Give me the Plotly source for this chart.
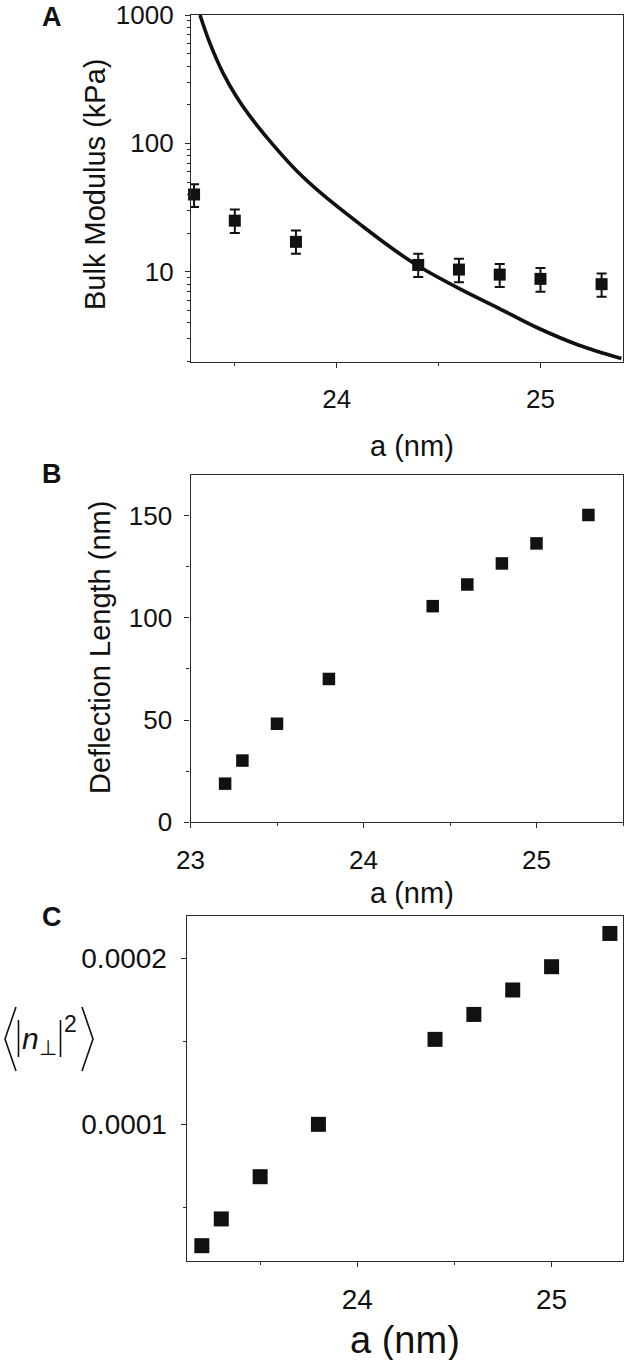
import plotly.graph_objects as go

W, H = 625, 1360

# ---------------- data ----------------
a_A = [23.3, 23.5, 23.8, 24.4, 24.6, 24.8, 25.0, 25.3]
K_A = [40, 25, 17.1, 11.3, 10.4, 9.5, 8.8, 8.0]
K_err_plus = [8, 5.5, 3.9, 2.5, 2.2, 2.0, 1.9, 1.7]
K_err_minus = [8, 5.0, 3.3, 2.2, 2.1, 1.9, 1.8, 1.6]

curve_a = [23.329, 23.378, 23.443, 23.509, 23.590, 23.687, 23.802, 23.932,
           24.127, 24.290, 24.404, 24.616, 24.779, 24.990, 25.186, 25.397]
curve_K = [1000, 601, 351, 230, 151, 97.7, 61.5, 39.8,
           22.6, 14.5, 11.0, 7.2, 5.36, 3.63, 2.69, 2.11]

a_B = [23.2, 23.3, 23.5, 23.8, 24.4, 24.6, 24.8, 25.0, 25.3]
L_B = [18.9, 30.2, 48.2, 70.1, 105.7, 116.3, 126.6, 136.4, 150.3]

a_C = [23.2, 23.3, 23.5, 23.8, 24.4, 24.6, 24.8, 25.0, 25.3]
n_C = [0.0000270, 0.0000431, 0.0000685, 0.0001000, 0.0001511, 0.0001661, 0.0001808, 0.0001948, 0.0002148]

A_xticks = [24, 25]
A_yticks = [10, 100, 1000]
B_xticks = [23, 24, 25]
B_yticks = [0, 50, 100, 150]
C_xticks = [24, 25]
C_yticks = [0.0001, 0.0002]
C_yticklabels = ["0.0001", "0.0002"]

# ---------------- layout helpers ----------------
def px_x(p):
    return p / W

def px_y(p):
    return 1 - p / H

FONT = "Liberation Sans, Arial, sans-serif"
AX = "#2b2b2b"
MK = "#111111"

fig = go.Figure()

# Panel A
fig.add_trace(go.Scatter(x=curve_a, y=curve_K, mode="lines",
                         line=dict(color=MK, width=3.6, shape="spline", smoothing=1.0),
                         xaxis="x", yaxis="y", showlegend=False, cliponaxis=True))
fig.add_trace(go.Scatter(x=a_A, y=K_A, mode="markers",
                         marker=dict(symbol="square", size=12, color=MK),
                         error_y=dict(type="data", array=K_err_plus, arrayminus=K_err_minus,
                                      color=MK, thickness=2, width=5),
                         xaxis="x", yaxis="y", showlegend=False, cliponaxis=False))
# Panel B
fig.add_trace(go.Scatter(x=a_B, y=L_B, mode="markers", marker=dict(symbol="square", size=12.5, color=MK),
                         xaxis="x2", yaxis="y2", showlegend=False, cliponaxis=False))
# Panel C
fig.add_trace(go.Scatter(x=a_C, y=n_C, mode="markers", marker=dict(symbol="square", size=15, color=MK),
                         xaxis="x3", yaxis="y3", showlegend=False, cliponaxis=False))

def axis(size=26, **kw):
    d = dict(showline=True, linecolor=AX, linewidth=1.3, mirror=True, ticks="outside", ticklen=5,
             tickwidth=1.3, tickcolor=AX, showgrid=False, zeroline=False, automargin=False,
             tickfont=dict(family=FONT, size=size, color="#111"))
    d.update(kw)
    return d

def minor(vals):
    return dict(tickmode="array", tickvals=vals, ticks="outside", ticklen=3, tickwidth=1.2,
                tickcolor=AX, showgrid=False)

logminor = [m * 10 ** e for e in range(0, 3) for m in range(2, 10)]

fig.update_layout(
    width=W, height=H, margin=dict(l=0, r=0, t=0, b=0, autoexpand=False),
    paper_bgcolor="white", plot_bgcolor="white",
    xaxis=axis(domain=[px_x(191), px_x(623)], anchor="y", range=[23.285, 25.405],
               tickmode="array", tickvals=A_xticks, ticklabelstandoff=9, minor=minor([23.5, 24.5])),
    yaxis=axis(domain=[px_y(362), px_y(15)], anchor="x", type="log", range=[0.297, 3.0],
               tickmode="array", tickvals=A_yticks, ticktext=[str(v) for v in A_yticks],
               ticklabelstandoff=6, minor=minor(logminor)),
    xaxis2=axis(domain=[px_x(190.5), px_x(623)], anchor="y2", range=[23, 25.5],
                tickmode="array", tickvals=B_xticks, ticklabelstandoff=9, minor=minor([23.5, 24.5, 25.5])),
    yaxis2=axis(domain=[px_y(822.3), px_y(474.7)], anchor="x2", range=[0, 170],
                tickmode="array", tickvals=B_yticks, ticklabelstandoff=7, minor=minor([25, 75, 125])),
    xaxis3=axis(size=28, domain=[px_x(186.7), px_x(622.5)], anchor="y3", range=[23.122, 25.365],
                tickmode="array", tickvals=C_xticks, ticklabelstandoff=8, minor=minor([23.5, 24.5])),
    yaxis3=axis(size=28, domain=[px_y(1261), px_y(916)], anchor="x3", range=[0.0000178, 0.0002253],
                tickmode="array", tickvals=C_yticks, ticktext=C_yticklabels, ticklabelstandoff=8,
                minor=minor([0.00005, 0.00015])),
)

ann = []
def text(x, y, s, size, bold=False, italic=False, xanchor="center", yanchor="middle", textangle=0):
    ann.append(dict(x=px_x(x), y=px_y(y), xref="paper", yref="paper", text=s, showarrow=False,
                    xanchor=xanchor, yanchor=yanchor, textangle=textangle,
                    font=dict(family=FONT, size=size, color="#111", weight="bold" if bold else "normal",
                              style="italic" if italic else "normal")))

# panel letters
text(52, 17, "A", 27, bold=True)
text(52, 474, "B", 27, bold=True)
text(52, 917, "C", 27, bold=True)
# axis titles
text(95, 185, "Bulk Modulus (kPa)", 29, textangle=-90)
text(412, 446, "a (nm)", 29)
text(100, 648, "Deflection Length (nm)", 29, textangle=-90)
text(412, 893, "a (nm)", 29)
text(405, 1340, "a (nm)", 38)
# C y-title pieces
text(39, 1040, "<i>n</i><sub>⊥</sub>", 30)
text(70, 1024, "2", 23)
fig.update_layout(annotations=ann)

# brackets and bars for <|n|^2>
lw = 1.6
shapes = []
def P(x, y):
    return f"{px_x(x)},{px_y(y)}"
def path(d):
    shapes.append(dict(type="path", xref="paper", yref="paper", path=d, line=dict(color="#111", width=lw)))
path(f"M {P(16, 1007)} L {P(5, 1039)} L {P(16, 1071)}")
path(f"M {P(82, 1007)} L {P(93, 1039)} L {P(82, 1071)}")
path(f"M {P(18.5, 1020)} L {P(18.5, 1057)}")
path(f"M {P(60.5, 1020)} L {P(60.5, 1057)}")
fig.update_layout(shapes=shapes)

fig.write_html("out.html", config={"displayModeBar": False},
               post_script="document.body.style.margin='0px';document.body.style.padding='0px';")
